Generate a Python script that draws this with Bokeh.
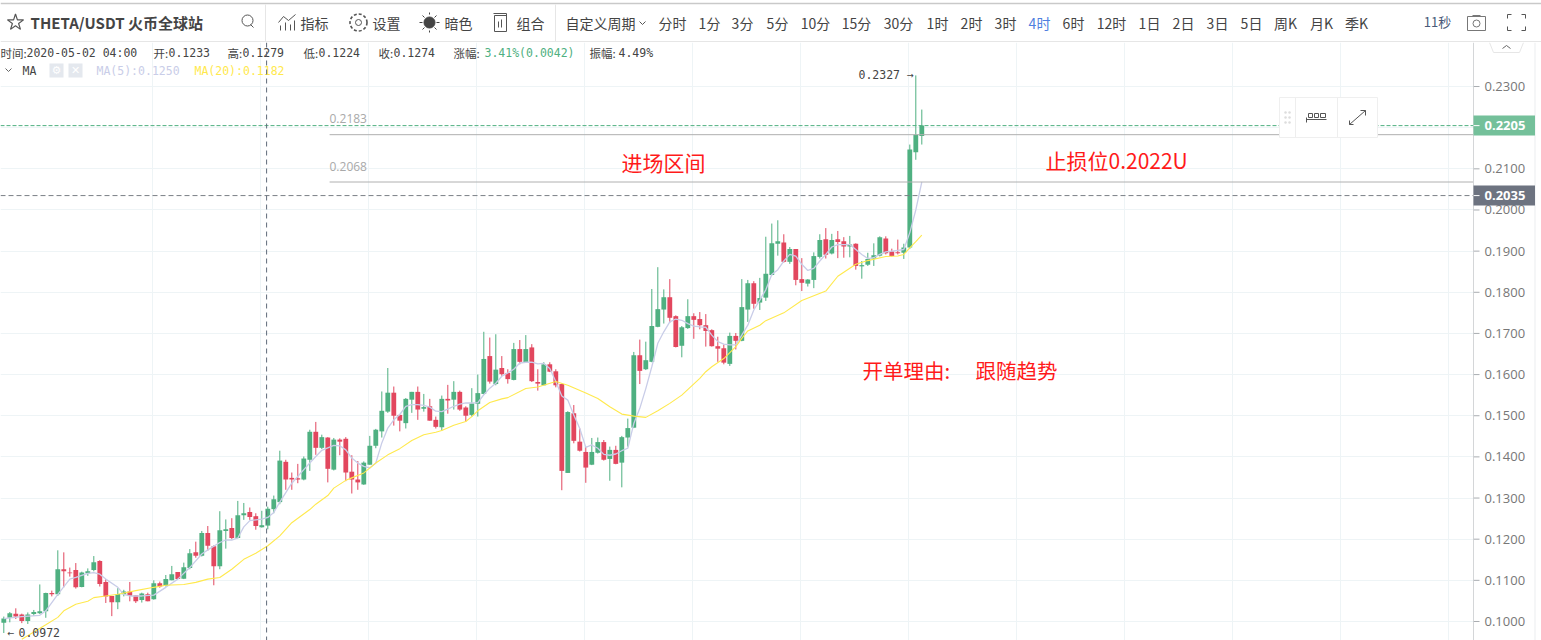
from bokeh.plotting import figure
from bokeh.layouts import column, row
from bokeh.models import (ColumnDataSource, Range1d, FixedTicker, Grid, Span)
from bokeh.core.properties import value
from bokeh.embed import file_html
from bokeh.resources import INLINE

# prices in units of 0.0001 USDT
opens = [997,1009,1019,1017,1001,1018,1020,1025,1069,1066,1127,1119,1125,1084,1117,1125,1147,1096,1062,1047,
 1066,1073,1064,1052,1066,1054,1093,1087,1100,1120,1104,1130,1168,1160,1215,1183,1134,1220,1227,1203,
 1258,1266,1256,1229,1233,1273,1290,1388,1349,1348,1345,1393,1461,1422,1447,1369,1442,1444,1364,1345,
 1333,1381,1427,1462,1510,1556,1502,1482,1539,1558,1517,1523,1490,1472,1541,1539,1558,1520,1502,1529,
 1553,1645,1577,1616,1604,1587,1662,1630,1666,1582,1574,1625,1608,1577,1361,1506,1437,1412,1381,1410,
 1436,1395,1417,1386,1447,1471,1647,1613,1631,1716,1758,1788,1742,1670,1713,1742,1735,1720,1708,1669,
 1664,1626,1694,1682,1758,1822,1775,1787,1842,1918,1921,1874,1905,1832,1821,1830,1886,1929,1894,1929,
 1924,1911,1918,1863,1867,1882,1889,1931,1899,1897,1896,1909,2140,2180]
closes = [1007,1020,1012,1001,1017,1023,1025,1069,1066,1127,1122,1117,1083,1119,1122,1144,1091,1061,1047,1067,
 1073,1062,1049,1068,1049,1093,1085,1103,1115,1103,1132,1166,1160,1215,1184,1134,1222,1224,1203,1258,
 1263,1254,1232,1234,1274,1297,1391,1345,1345,1345,1396,1461,1422,1448,1371,1442,1437,1362,1345,1338,
 1386,1427,1466,1512,1556,1500,1488,1541,1558,1515,1521,1488,1473,1541,1537,1558,1515,1500,1530,1555,
 1638,1583,1612,1601,1589,1662,1631,1662,1584,1578,1625,1607,1574,1366,1509,1439,1415,1374,1412,1436,
 1393,1417,1383,1448,1470,1647,1609,1635,1718,1759,1788,1738,1667,1715,1742,1733,1720,1706,1669,1663,
 1629,1694,1682,1764,1822,1772,1786,1845,1919,1924,1874,1905,1830,1823,1831,1888,1927,1891,1927,1922,
 1911,1916,1864,1866,1881,1890,1934,1895,1888,1895,1909,2147,2183,2205]
highs = [1012,1023,1032,1019,1022,1028,1090,1070,1075,1173,1168,1131,1142,1121,1129,1159,1149,1103,1062,1081,
 1077,1096,1064,1070,1070,1100,1097,1113,1135,1120,1143,1176,1194,1220,1232,1185,1268,1248,1251,1293,
 1288,1277,1263,1269,1279,1306,1415,1393,1362,1383,1401,1466,1485,1454,1448,1446,1445,1448,1404,1390,
 1389,1451,1468,1559,1616,1571,1502,1543,1558,1571,1553,1541,1498,1549,1575,1584,1561,1523,1567,1600,
 1704,1690,1698,1645,1613,1677,1684,1696,1674,1613,1630,1630,1613,1578,1511,1526,1469,1425,1446,1447,
 1441,1425,1427,1451,1493,1655,1685,1680,1808,1861,1807,1832,1744,1718,1783,1749,1752,1747,1710,1692,
 1673,1702,1701,1832,1830,1827,1835,1935,1967,1975,1941,1910,1905,1883,1832,1897,1941,1956,1942,1949,
 1934,1937,1919,1876,1896,1919,1936,1936,1906,1928,1918,2159,2327,2244]
lows = [972,998,1006,996,994,1014,1018,1009,1061,1062,1083,1109,1080,1083,1111,1122,1085,1045,1013,1030,
 1061,1049,1045,1046,1049,1053,1082,1085,1100,1103,1103,1127,1155,1158,1172,1088,1127,1177,1200,1202,
 1247,1247,1223,1228,1224,1263,1285,1320,1320,1336,1343,1366,1405,1419,1338,1367,1404,1341,1311,1320,
 1332,1381,1421,1447,1507,1476,1462,1469,1507,1490,1510,1488,1469,1464,1505,1515,1512,1486,1498,1498,
 1552,1578,1574,1597,1578,1586,1625,1629,1582,1561,1574,1606,1569,1319,1361,1433,1413,1337,1380,1408,
 1391,1342,1382,1326,1425,1470,1577,1611,1630,1715,1724,1726,1666,1642,1711,1687,1710,1668,1668,1631,
 1625,1621,1661,1681,1728,1760,1757,1779,1841,1889,1872,1869,1817,1803,1814,1810,1882,1882,1892,1883,
 1884,1885,1855,1833,1864,1864,1887,1892,1887,1892,1881,1905,2122,2159]

ma5_idx = [0,3,6,7,9,11,12,14,15,16,17,19,20,21,23,25,27,29,31,33,34,36,37,38,39,40,41,43,44,45,46,48,50,51,52,53,
 54,55,56,57,58,59,60,61,62,63,64,65,66,67,68,69,70,71,72,73,74,75,76,77,78,79,80,81,82,83,84,85,86,87,88,89,
 90,91,92,93,94,95,96,97,98,99,100,101,102,103,104,105,106,107,108,109,110,111,112,113,114,115,116,117,118,119,
 120,121,122,123,124,125,126,127,128,129,130,131,132,133,134,135,136,137,138,139,140,141,142,143,144,145,146,
 147,148,149,150,151,152,153]
ma5_val = [1007,1012,1015,1026,1066,1103,1107,1117,1119,1115,1103,1083,1066,1062,1062,1064,1083,1103,1131,1164,1174,1192,1198,1198,1203,1230,1245,1249,1253,1265,1290,1336,1369,1385,1401,1416,
 1422,1428,1427,1417,1397,1385,1377,1373,1385,1434,1470,1490,1503,1523,1527,1527,1525,1521,1511,1510,1516,1523,1528,1531,1531,1532,1551,1567,1579,1596,1604,1613,1628,1630,1630,1626,
 1627,1615,1583,1548,1538,1502,1469,1423,1429,1421,1406,1404,1407,1415,1421,1481,1518,1566,1619,1676,1704,1728,1735,1732,1724,1718,1716,1715,1696,1680,
 1674,1672,1672,1696,1720,1757,1781,1806,1843,1855,1876,1892,1888,1868,1853,1858,1876,1892,1910,1916,1916,1916,1904,1892,1882,1884,1892,
 1898,1900,1902,1904,1945,2000,2068]
ma20_idx = [3,7,9,10,12,14,15,17,19,22,25,27,30,32,34,36,38,40,42,44,46,48,51,52,54,55,57,58,60,62,64,66,68,70,72,73,75,77,78,79,
 81,83,84,87,89,92,94,97,99,101,103,105,107,109,111,113,116,117,118,120,122,123,124,126,127,130,133,137,139,142,144,147,149,150,151,152,153]
ma20_val = [957,992,1010,1026,1042,1049,1058,1062,1066,1075,1083,1088,1090,1095,1103,1107,1127,1151,1166,1184,1208,1240,1272,1285,1306,1324,1343,1349,1361,1385,1405,1420,1440,1454,1460,1464,1477,1486,1498,1512,
 1532,1541,1544,1566,1570,1583,1574,1555,1542,1522,1504,1499,1496,1512,1530,1550,1591,1607,1619,1639,1668,1688,1706,1720,1731,1750,1780,1803,1839,1868,1877,1887,1888,1892,1908,1923,1939]

price_ticks = [0.10,0.11,0.12,0.13,0.14,0.15,0.16,0.17,0.18,0.19,0.20,0.21,0.22,0.23]
time_grid = [24.78,42.78,60.78,78.78,96.78,114.78,132.78,150.78,168.78,186.78,204.78,222.78,240.78]
levels = [0.2183,0.2068]
last_price, prev_price = 0.2205, 0.2035
crosshair_idx = 43.8

periods = ["分时","1分","3分","5分","10分","15分","30分","1时","2时","3时","4时","6时","12时","1日","2日","3日","5日","周K","月K","季K"]
period_x = [672,709,742,777,815,856,898,937,971,1005,1039,1073,1111,1149,1183,1217,1251,1285,1321,1356]

CJK = "Noto Sans CJK SC"
MONO = "DejaVu Sans Mono"
GREEN, RED = "#4fb081", "#e2475e"


def put(fig, x, y, s, color="#444444", size="14px", font=CJK, align="left", style="normal", **kw):
    fig.text([x], [y], text=[s], text_color=color, text_font_size=size, text_font=value(font),
             text_align=align, text_baseline="middle", text_font_style=style, **kw)


# ---------- header ----------
h = figure(width=1541, height=42, x_range=(0, 1541), y_range=(42, 0), output_backend="svg",
           toolbar_location=None, min_border=0, x_axis_type=None, y_axis_type=None, outline_line_color=None)
h.grid.visible = False
h.segment([0, 0, 265, 555], [3, 41, 4, 4], [1541, 1541, 265, 555], [3, 41, 41, 41],
          line_color=["#c9c9c9", "#e6e6e6", "#e6e6e6", "#e6e6e6"], line_width=[1.5, 1, 1, 1])
h.scatter([15], [22], marker="star", size=17, fill_color=None, line_color="#555555", line_width=1.2)
put(h, 30, 22, "THETA/USDT 火币全球站", color="#444444", style="bold", size="15px")
h.scatter([247], [20], marker="circle", size=11, fill_color=None, line_color="#555555")
h.segment([250], [24], [253], [27], line_color="#555555")
# indicator icon
h.multi_line([[278, 283, 288, 295], [280, 280], [285, 285], [290, 290], [294, 294]],
             [[22, 16, 20, 14], [30, 25], [30, 22], [30, 24], [30, 20]], line_color="#555555")
put(h, 300, 22, "指标")
h.scatter([358], [22], marker="circle", size=17, fill_color=None, line_color="#555555", line_dash="3 2", line_width=1.6)
h.scatter([358], [22], marker="circle", size=6, fill_color=None, line_color="#555555")
put(h, 372, 22, "设置")
h.scatter([429], [22], marker="circle", size=11, fill_color="#444444", line_color="#444444")
h.multi_line([[429, 429], [429, 429], [419, 422], [436, 439], [422, 424], [434, 436], [422, 424], [434, 436]],
             [[12, 14], [30, 32], [22, 22], [22, 22], [15, 17], [27, 29], [29, 27], [17, 15]], line_color="#444444")
put(h, 444, 22, "暗色")
h.quad([494], [506], [15], [31], fill_color=None, line_color="#555555")
h.segment([493, 506, 498, 501], [13, 13, 21, 19], [506, 506, 498, 501], [13, 29, 27, 27], line_color="#555555")
put(h, 516, 22, "组合")
put(h, 565, 22, "自定义周期")
h.multi_line([[639, 642, 645]], [[21, 24, 21]], line_color="#555555")
for s, x in zip(periods, period_x):
    put(h, x, 22, s, align="center", color="#4f7fe0" if s == "4时" else "#444444")
put(h, 1437, 21, "11秒", align="center", color="#4a5a78", size="13px")
# camera and full-screen icons
h.quad([1467], [1485], [16], [30], fill_color=None, line_color="#777777")
h.scatter([1476], [23], marker="circle", size=7, fill_color=None, line_color="#777777")
h.segment([1472], [15], [1480], [15], line_color="#777777")
h.multi_line([[1507, 1507, 1511], [1521, 1525, 1525], [1507, 1507, 1511], [1521, 1525, 1525]],
             [[18, 14, 14], [14, 14, 18], [26, 30, 30], [30, 30, 26]], line_color="#555555")

# ---------- chart ----------
X0, X1 = -0.55, 244.95
p = figure(width=1473, height=598, x_range=Range1d(X0, X1), y_range=Range1d(0.09538, 0.24070),
           output_backend="svg", toolbar_location=None, x_axis_type=None, y_axis_type=None,
           min_border=0, outline_line_color=None, background_fill_color="white")
p.extra_x_ranges["px"] = Range1d(0, 1473)
p.extra_y_ranges["px"] = Range1d(640, 42)

p.add_layout(Grid(dimension=1, ticker=FixedTicker(ticks=price_ticks), grid_line_color="#eef4f6"))
p.add_layout(Grid(dimension=0, ticker=FixedTicker(ticks=time_grid), grid_line_color="#eef4f6"))

src = ColumnDataSource(dict(
    i=list(range(len(opens))),
    o=[v / 1e4 for v in opens], c=[v / 1e4 for v in closes],
    hi=[v / 1e4 for v in highs], lo=[v / 1e4 for v in lows],
    col=[GREEN if c >= o else RED for o, c in zip(opens, closes)],
))
p.segment("i", "hi", "i", "lo", source=src, line_color="col", line_width=1)
p.vbar("i", 0.8, "o", "c", source=src, fill_color="col", line_color=None)
p.line(ma5_idx, [v / 1e4 for v in ma5_val], line_color="#c9cde8", line_width=1.3)
p.line(ma20_idx, [v / 1e4 for v in ma20_val], line_color="#ffe94d", line_width=1.1)

for lv in levels:
    p.segment([54.3], [lv], [X1], [lv], line_color="#b0b0b0", line_width=1)
    put(p, 329, 621 - (lv - 0.1) * 4115 - 16, f"{lv:.4f}", color="#a9a9a9", size="12px",
        font="Open Sans", x_range_name="px", y_range_name="px")
p.add_layout(Span(location=last_price, dimension="width", line_color="#4fb081", line_dash="4 2", line_width=1))
p.add_layout(Span(location=prev_price, dimension="width", line_color="#7a7f86", line_dash="5 3", line_width=1))
p.add_layout(Span(location=crosshair_idx, dimension="height", line_color="#5f6b7a", line_dash="5 4", line_width=1))

px = dict(x_range_name="px", y_range_name="px")
# info rows
put(p, 0, 52, "时间:", size="11.5px", **px)
put(p, 26, 52, "2020-05-02 04:00", size="11.5px", font=MONO, **px)
for x, head, val in [(153, "开:", "0.1233"), (227, "高:", "0.1279"), (303, "低:", "0.1224"), (378, "收:", "0.1274")]:
    put(p, x, 52, head, size="11.5px", **px)
    put(p, x + 15, 52, val, size="11.5px", font=MONO, **px)
put(p, 453, 52, "涨幅:", size="11.5px", **px)
put(p, 484, 52, "3.41%(0.0042)", size="11.5px", font=MONO, color="#4fb081", **px)
put(p, 589, 52, "振幅:", size="11.5px", **px)
put(p, 618, 52, "4.49%", size="11.5px", font=MONO, **px)
p.multi_line([[5, 8, 11]], [[68, 71, 68]], line_color="#666666", **px)
put(p, 22, 70, "MA", size="11.5px", font=MONO, **px)
p.quad([49, 68], [63, 82], [63, 63], [77, 77], fill_color="#e4e8ee", line_color=None, **px)
put(p, 56, 70, "⚙", size="11px", font="DejaVu Sans", color="white", align="center", **px)
put(p, 75, 70, "✕", size="11px", font="DejaVu Sans", color="white", align="center", **px)
put(p, 96, 70, "MA(5):0.1250", size="11.5px", font=MONO, color="#c9cde8", **px)
put(p, 194, 70, "MA(20):0.1182", size="11.5px", font=MONO, color="#ffe94d", **px)
# extreme marks
put(p, 858, 74, "0.2327 →", size="11.5px", font=MONO, **px)
put(p, 7, 632, "←", size="11.5px", font=MONO, **px)
put(p, 18, 632, "0.0972", size="11.5px", font=MONO, **px)
# hand-written notes
put(p, 621, 161, "进场区间", color="#ff1a1a", size="21px", **px)
put(p, 1045, 159, "止损位0.2022U", color="#ff1a1a", size="21px", **px)
put(p, 862, 369, "开单理由:", color="#ff1a1a", size="20.5px", **px)
put(p, 975, 369, "跟随趋势", color="#ff1a1a", size="20.5px", **px)
# floating tool box
p.quad([1279], [1377], [97], [137], fill_color="white", line_color="#efefef", level="overlay", **px)
p.segment([1295, 1337], [97, 97], [1295, 1337], [137, 137], line_color="#eeeeee", level="overlay", **px)
p.scatter([1285, 1289, 1285, 1289, 1285, 1289], [112, 112, 117, 117, 122, 122], marker="circle", size=2.5,
          fill_color="#dddddd", line_color=None, level="overlay", **px)
p.multi_line([[1306, 1306], [1306, 1326], [1308, 1312, 1312, 1308, 1308], [1314, 1318, 1318, 1314, 1314], [1320, 1325, 1325, 1320, 1320], [1349, 1365], [1360, 1365, 1365], [1349, 1349, 1353]],
             [[117, 122], [119, 119], [113, 113, 117, 117, 113], [113, 113, 117, 117, 113], [113, 113, 117, 117, 113], [124, 110], [110, 110, 115], [120, 124, 124]],
             line_color="#555555", level="overlay", **px)

# ---------- price scale strip, on the same price range ----------
r = figure(width=68, height=598, x_range=(0, 68), y_range=p.y_range, output_backend="svg",
           toolbar_location=None, x_axis_type=None, y_axis_type=None, min_border=0, outline_line_color=None)
r.grid.visible = False
r.extra_y_ranges["px"] = Range1d(640, 42)
r.segment([0], [640], [0], [42], line_color="#a9adb1", y_range_name="px")
r.segment([61.5], [640], [61.5], [42], line_color="#ebedef", y_range_name="px")
r.segment([0] * len(price_ticks), price_ticks, [6] * len(price_ticks), price_ticks, line_color="#a9adb1")
r.text([11] * len(price_ticks), price_ticks, text=[f"{t:.4f}" for t in price_ticks], text_color="#777777",
       text_font=value("Open Sans"), text_font_size="13px", text_align="left", text_baseline="middle")
tags = [(last_price, "#74c09a"), (prev_price, "#6d7380")]
for y, col in tags:
    r.rect([30.5], [y], width=62, height=20, width_units="screen", height_units="screen",
           fill_color=col, line_color=None)
    r.segment([0], [y], [6], [y], line_color="white")
    r.text([11], [y], text=[f"{y:.4f}"], text_color="white", text_font=value("Open Sans"), text_font_size="13px",
           text_font_style="bold", text_align="left", text_baseline="middle")
r.multi_line([[16, 20, 46, 50]], [[42, 52, 52, 42]], line_color="#e6e6e6", y_range_name="px")
r.multi_line([[29, 33, 37]], [[48, 45, 48]], line_color="#666666", y_range_name="px")

page = column(h, row(p, r, spacing=0), spacing=0)
open("out.html", "w").write(file_html(page, INLINE))
